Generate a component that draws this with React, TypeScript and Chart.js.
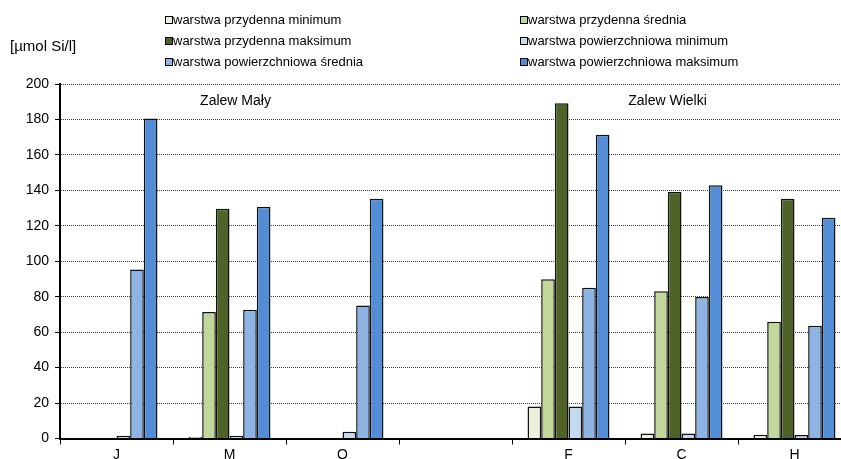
import React, { useEffect, useRef } from "react";
import { Chart, registerables } from "chart.js";

Chart.register(...registerables);

const categories = ["J", "M", "O", "", "F", "C", "H"];
const przydennaMin = [null, 0.8, null, null, 18.1, 2.8, 2.1];
const przydennaSrednia = [null, 71.4, null, null, 89.8, 83.1, 65.9];
const przydennaMaks = [null, 129.6, null, null, 189.1, 139, 135.2];
const powierzchniowaMin = [1.5, 1.5, 3.8, null, 18.1, 2.8, 2.0];
const powierzchniowaSrednia = [95.3, 72.7, 75.1, null, 85.1, 79.9, 63.6];
const powierzchniowaMaks = [180.6, 130.7, 135.2, null, 171.4, 142.9, 124.5];

const seriesLabels = [
  "warstwa przydenna minimum",
  "warstwa przydenna średnia",
  "warstwa przydenna maksimum",
  "warstwa powierzchniowa minimum",
  "warstwa powierzchniowa średnia",
  "warstwa powierzchniowa maksimum",
];
const seriesColors = ["#EBF1DE", "#C4D79B", "#4F6228", "#C5D9F1", "#8DB4E2", "#538DD5"];
const yTitle = "[µmol Si/l]";
const regionLabels = ["Zalew Mały", "Zalew Wielki"];

const FONT = "'Liberation Sans', Arial, sans-serif";

const overlayPlugin = {
  id: "overlay",
  afterDraw(chart: any) {
    const ctx = chart.ctx;
    ctx.save();
    // legend
    const colX = [165, 520];
    const rowY = [20, 41, 62];
    ctx.font = `13px ${FONT}`;
    ctx.textBaseline = "middle";
    ctx.textAlign = "left";
    chart.data.datasets.forEach((ds: any, i: number) => {
      const x = colX[i % 2];
      const y = rowY[Math.floor(i / 2)];
      ctx.fillStyle = ds.backgroundColor;
      ctx.fillRect(x, y - 4, 8, 8);
      ctx.strokeStyle = "#000";
      ctx.lineWidth = 1;
      ctx.strokeRect(x + 0.5, y - 3.5, 7, 7);
      ctx.fillStyle = "#000";
      ctx.fillText(ds.label, x + 8, y);
    });
    // y title
    ctx.font = `15px ${FONT}`;
    ctx.fillText(yTitle, 10, 47);
    // region labels
    const xs = chart.scales.x;
    const top = chart.chartArea.top;
    ctx.font = `14px ${FONT}`;
    ctx.textAlign = "center";
    ctx.fillText(regionLabels[0], xs.getPixelForValue(1) + 6, top + 17);
    ctx.fillText(regionLabels[1], xs.getPixelForValue(5) - 14, top + 17);
    ctx.restore();
  },
};

export default function App() {
  const ref = useRef<HTMLCanvasElement>(null);
  useEffect(() => {
    document.body.style.margin = "0";
    document.body.style.overflow = "hidden";
    const data = [przydennaMin, przydennaSrednia, przydennaMaks, powierzchniowaMin, powierzchniowaSrednia, powierzchniowaMaks];
    const chart = new Chart(ref.current!, {
      type: "bar",
      data: {
        labels: categories,
        datasets: data.map((d, i) => ({
          label: seriesLabels[i],
          data: d,
          backgroundColor: seriesColors[i],
          borderColor: "#111",
          borderWidth: 1.5,
          barPercentage: 1,
          categoryPercentage: 0.725,
        })),
      },
      options: {
        responsive: false,
        animation: false,
        devicePixelRatio: 1,
        layout: { padding: { top: 84, right: 11, left: 0, bottom: 0 } },
        plugins: { legend: { display: false }, tooltip: { enabled: false } },
        scales: {
          x: {
            afterFit: (s: any) => { s.height = 20.5; },
            grid: { drawOnChartArea: false, color: "#000", tickLength: 6, offset: true },
            border: { color: "#000", width: 2 },
            ticks: { color: "#000", font: { family: FONT, size: 14 }, padding: 2.5, autoSkip: false, maxRotation: 0 },
          },
          y: {
            min: 0,
            max: 200,
            afterFit: (s: any) => { s.width = 60; },
            grid: { color: "#444", lineWidth: 1, tickLength: 5, tickColor: "#000" },
            border: { color: "#000", width: 2, dash: [1, 1] },
            ticks: { stepSize: 20, color: "#000", font: { family: FONT, size: 14 }, padding: 6 },
          },
        },
      },
      plugins: [overlayPlugin],
    });
    return () => chart.destroy();
  }, []);
  return (
    <div style={{ width: 841, height: 459, overflow: "hidden", position: "relative" }}>
      <canvas ref={ref} width={862} height={459} style={{ width: 862, height: 459, display: "block" }} />
    </div>
  );
}
